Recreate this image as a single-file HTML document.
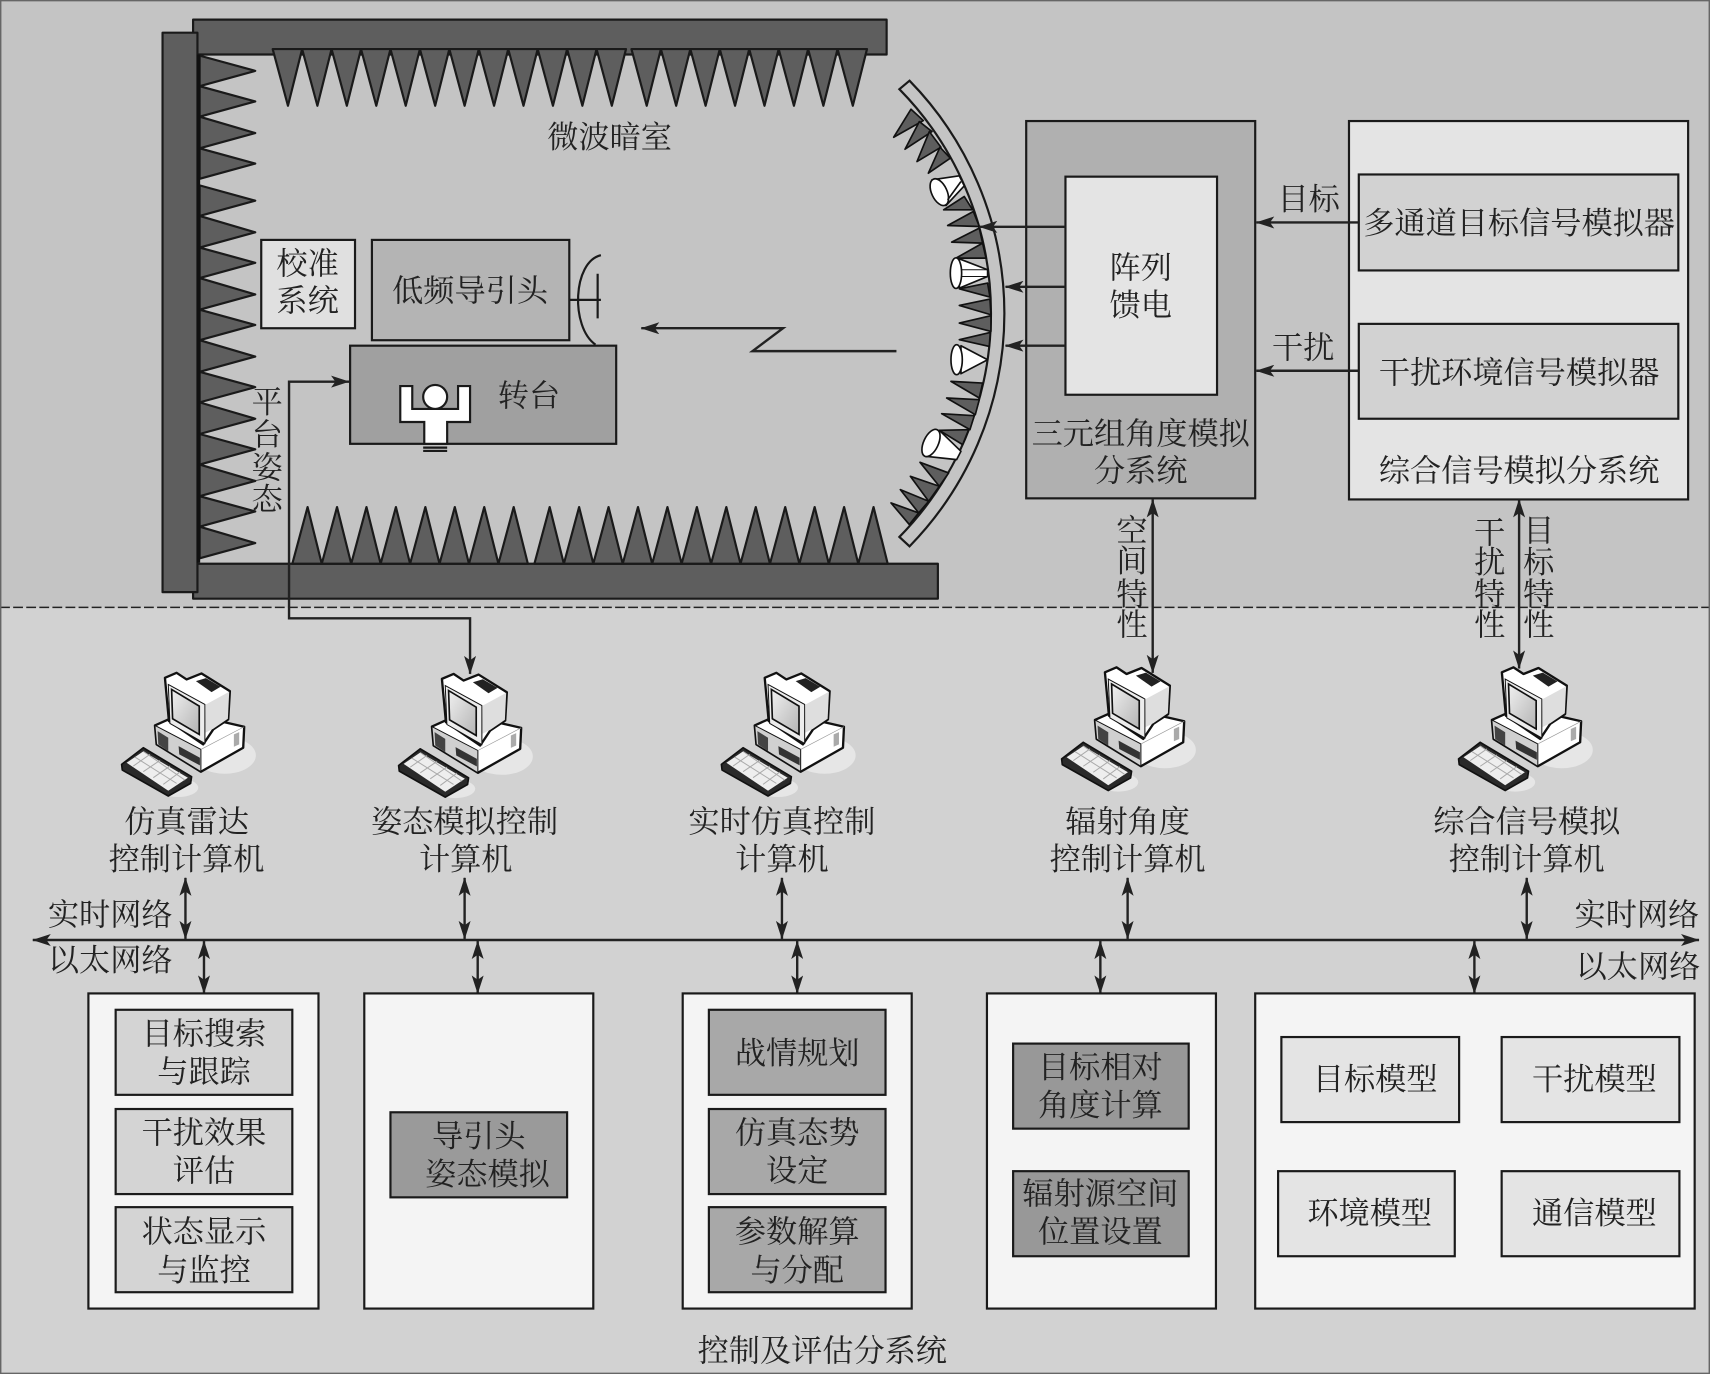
<!DOCTYPE html>
<html><head><meta charset="utf-8">
<style>
html,body{margin:0;padding:0;background:#c4c4c4}
svg{display:block}
text{font-family:"Liberation Serif","Noto Serif CJK SC",serif;font-size:28.6px;fill:#222;text-anchor:middle;dominant-baseline:central;transform:translate(0,1px)}
.s{stroke:#1a1a1a;stroke-width:2}
.t{fill:#5e5e5e;stroke:#1a1a1a;stroke-width:2;stroke-linejoin:round}
.l{fill:none;stroke:#222;stroke-width:2.2}
</style></head><body>
<svg xmlns="http://www.w3.org/2000/svg" width="1710" height="1374" viewBox="0 0 1568 1260">
<defs>
<marker id="a" viewBox="0 0 17 11" refX="16.5" refY="5.5" markerWidth="17" markerHeight="11" markerUnits="userSpaceOnUse" orient="auto-start-reverse"><path d="M17,5.500 L0,0 L4,5.500 L0,11 Z" fill="#222"/></marker>
<linearGradient id="sc" x1="0" y1="0" x2="1" y2="1"><stop offset="0" stop-color="#f0f0f0"/><stop offset="1" stop-color="#b4b4b4"/></linearGradient>
<g id="pc">
<g transform="scale(.9163) translate(100,650) scale(.33333)">
<ellipse cx="375" cy="318" rx="93" ry="55" fill="#e6e6e6"/>
<ellipse cx="235" cy="415" rx="60" ry="28" fill="#e6e6e6"/>
<path d="M165,228 L250,190 L433,232 L430,295 L303,367 L170,285 Z" fill="#fff" stroke="#111" stroke-width="7" stroke-linejoin="round"/>
<path d="M165,228 L303,300 L303,367 L170,285 Z" fill="#d0d0d0" stroke="#111" stroke-width="3"/>
<path d="M303,300 L433,232" stroke="#999" stroke-width="2"/>
<path d="M173,245 L205,265 L205,305 L175,285 Z" fill="#444"/>
<path d="M236,290 L300,325 L300,348 L238,315 Z" fill="#333"/>
<path d="M402,255 L418,248 L418,285 L402,292 Z" fill="#aaa"/>
<path d="M195,85 L230,70 L260,90 L305,72 L390,125 L385,210 L340,240 L310,285 L207,215 Z" fill="#fff" stroke="#111" stroke-width="7" stroke-linejoin="round"/>
<path d="M318,165 L388,127 L384,208 L340,238 L316,250 Z" fill="#dedede"/>
<path d="M205,105 L315,165 L315,282 L210,222 Z" fill="#ececec" stroke="#111" stroke-width="3"/>
<path d="M215,120 L298,170 L298,255 L218,208 Z" fill="url(#sc)" stroke="#111" stroke-width="5"/>
<path d="M288,95 L318,86 L362,112 L335,128 Z" fill="#222"/>
<path d="M65,345 L130,295 L275,382 L272,402 L205,440 L67,362 Z" fill="#2a2a2a" stroke="#111" stroke-width="5" stroke-linejoin="round"/>
<path d="M80,340 L130,306 L264,385 L205,424 Z" fill="#eee"/>
<path d="M105,323 L230,402 M130,306 L255,392 M100,350 L150,315 M130,367 L180,333 M160,385 L210,350 M190,405 L240,368" stroke="#aaa" stroke-width="3"/>
</g>
</g>
</defs>

<rect x="0" y="0" width="1568" height="557" fill="#c4c4c4"/>
<rect x="0" y="557" width="1568" height="703" fill="#d2d2d2"/>
<line x1="0" y1="557" x2="1568" y2="557" stroke="#222" stroke-width="1.3" stroke-dasharray="9 3"/>
<rect x=".5" y=".5" width="1567" height="1259" fill="none" stroke="#666" stroke-width="1.5"/>

<!-- chamber -->
<rect x="177" y="18" width="636" height="32" class="t"/>
<rect x="177" y="517" width="683" height="32" class="t"/>
<path class="t" d="M250,45 L264,97 L277,45 L291,97 L304,45 L318,97 L331,45 L345,97 L358,45 L372,97 L385,45 L399,97 L412,45 L426,97 L439,45 L453,97 L466,45 L480,97 L493,45 L507,97 L520,45 L534,97 L547,45 L561,97 L574,45 Z"/>
<path class="t" d="M579,45 L593,97 L606,45 L620,97 L633,45 L647,97 L660,45 L674,97 L687,45 L701,97 L714,45 L728,97 L741,45 L755,97 L768,45 L782,97 L795,45 Z"/>
<path class="t" d="M268,517 L282,465 L295,517 L309,465 L322,517 L336,465 L349,517 L363,465 L376,517 L390,465 L403,517 L417,465 L430,517 L444,465 L457,517 L471,465 L484,517 Z"/>
<path class="t" d="M490,517 L504,465 L517,517 L531,465 L544,517 L558,465 L571,517 L585,465 L598,517 L612,465 L625,517 L639,465 L652,517 L666,465 L679,517 L693,465 L706,517 L720,465 L733,517 L747,465 L760,517 L774,465 L787,517 L801,465 L814,517 Z"/>
<path class="t" d="M183,51 L234,65 L183,79 L234,93 L183,107 L234,122 L183,136 L234,150 L183,164 Z"/>
<path class="t" d="M183,170 L234,184 L183,198 L234,213 L183,227 L234,241 L183,255 L234,270 L183,284 L234,298 L183,312 L234,327 L183,341 L234,355 L183,369 L234,384 L183,398 L234,412 L183,426 L234,441 L183,455 L234,469 L183,483 L234,498 L183,512 Z"/>
<rect x="149" y="30" width="32" height="513" class="t"/>
<line x1="182" y1="50" x2="182" y2="516" stroke="#111" stroke-width="3"/>

<rect x="239.500" y="220" width="86" height="81" fill="#e0e0e0" class="s"/>
<text x="282" y="241">校准</text><text x="282" y="275">系统</text>
<path class="s" fill="none" d="M551,234 C525,240 523,300 546,316"/>
<path class="s" fill="none" d="M522,275 L551,275 M548,251 L548,292"/>
<rect x="341" y="220" width="181" height="92" fill="#b4b4b4" class="s"/>
<text x="431" y="266">低频导引头</text>
<rect x="321" y="317" width="244" height="90" fill="#a0a0a0" class="s"/>
<text x="485" y="362">转台</text>
<path d="M367,354 H378 V375 H420 V354 H431 V387 H410 V407 H389 V387 H367 Z" fill="#fff" class="s"/>
<circle cx="399" cy="364" r="11" fill="#fff" class="s"/>
<path d="M388,410.500 H410 M388,413.500 H410" class="s" stroke-width="1.500" fill="none"/>
<path class="l" d="M431,618 V567 H265 V350 H320" marker-start="url(#a)" marker-end="url(#a)"/>
<text x="245" y="368">平</text><text x="245" y="398">台</text><text x="245" y="428">姿</text><text x="245" y="457">态</text>
<text x="559" y="125">微波暗室</text>
<path class="l" d="M822,322 H690 L718,301 H588" marker-end="url(#a)"/>

<!-- curved wall -->
<path d="M834,74 A305.500,305.500 0 0 1 834,501 L824.700,492.400 A292.900,292.900 0 0 0 824.700,81.800 Z" fill="#c4c4c4" class="s"/>
<g transform="scale(.9163) translate(850,60) scale(.33333)" stroke-width="6">
<g fill="#5e5e5e" stroke="#111" stroke-width="5" stroke-linejoin="round">
<path d="M133,232 L185,148 L222,182 Z"/><path d="M167,268 L210,185 L248,215 Z"/><path d="M203,305 L240,215 L275,262 Z"/><path d="M237,340 L272,262 L303,295 Z"/>
<path d="M283,450 L345,410 L370,450 Z"/><path d="M295,497 L372,455 L390,500 Z"/><path d="M307,547 L390,505 L400,550 Z"/><path d="M320,595 L400,550 L410,595 Z"/>
<path d="M330,687 L415,670 L422,712 Z"/><path d="M330,737 L422,718 L425,765 Z"/><path d="M330,790 L425,768 L425,815 Z"/><path d="M330,840 L423,818 L420,860 Z"/>
<path d="M305,965 L400,970 L390,1015 Z"/><path d="M292,1015 L390,1020 L378,1065 Z"/><path d="M277,1062 L375,1068 L362,1110 Z"/><path d="M270,1112 L358,1110 L340,1155 Z"/>
<path d="M212,1208 L298,1240 L270,1280 Z"/><path d="M183,1250 L270,1280 L238,1325 Z"/><path d="M153,1290 L238,1325 L208,1360 Z"/><path d="M125,1330 L208,1360 L180,1395 Z"/>
</g>
<g fill="#fff" stroke="#111" stroke-width="5" stroke-linejoin="round">
<path d="M248,360 L330,348 L345,378 L290,437 Z"/><ellipse cx="270" cy="397" rx="23" ry="43" transform="rotate(-25 270 397)"/><path d="M295,420 L335,365" fill="none"/>
<path d="M330,597 L415,630 L415,650 L330,685 Z"/><ellipse cx="320" cy="640" rx="17" ry="46"/><path d="M335,630 L415,630 M335,650 L415,650" fill="none" stroke-width="3"/>
<path d="M335,858 L415,900 L335,942 Z"/><ellipse cx="322" cy="900" rx="17" ry="45"/>
<path d="M270,1112 L335,1175 L322,1200 L230,1190 Z"/><ellipse cx="245" cy="1150" rx="22" ry="44" transform="rotate(25 245 1150)"/>
</g>
</g>

<!-- angle sim -->
<rect x="941" y="111" width="210" height="346" fill="#b0b0b0" class="s"/>
<rect x="977" y="162" width="139" height="200" fill="#e4e4e4" class="s"/>
<text x="1046" y="245">阵列</text><text x="1046" y="279">馈电</text>
<text x="1046" y="397">三元组角度模拟</text><text x="1046" y="431">分系统</text>
<path class="l" d="M977,208 H898" marker-end="url(#a)"/>
<path class="l" d="M977,263 H922" marker-end="url(#a)"/>
<path class="l" d="M977,317 H922" marker-end="url(#a)"/>

<!-- signal sim -->
<rect x="1237" y="111" width="311" height="347" fill="#e4e4e4" class="s"/>
<rect x="1246" y="160" width="293" height="88" fill="#d2d2d2" class="s"/>
<rect x="1246" y="297" width="293" height="87" fill="#d2d2d2" class="s"/>
<text x="1393" y="204">多通道目标信号模拟器</text>
<text x="1393" y="341">干扰环境信号模拟器</text>
<text x="1393" y="431">综合信号模拟分系统</text>
<path class="l" d="M1246,204 H1152" marker-end="url(#a)"/>
<path class="l" d="M1246,340 H1152" marker-end="url(#a)"/>
<text x="1200" y="182">目标</text><text x="1195" y="318">干扰</text>

<path class="l" d="M1057,458 V617" marker-start="url(#a)" marker-end="url(#a)"/>
<path class="l" d="M1393,458 V613" marker-start="url(#a)" marker-end="url(#a)"/>
<text x="1038" y="486">空</text><text x="1038" y="514">间</text><text x="1038" y="544">特</text><text x="1038" y="572">性</text>
<text x="1366" y="488">干</text><text x="1366" y="515">扰</text><text x="1366" y="544">特</text><text x="1366" y="572">性</text>
<text x="1411" y="486">目</text><text x="1411" y="515">标</text><text x="1411" y="544">特</text><text x="1411" y="572">性</text>

<!-- computers -->
<use href="#pc"/>
<use href="#pc" transform="translate(254,1)"/>
<use href="#pc" transform="translate(550,0)"/>
<use href="#pc" transform="translate(862,-5)"/>
<use href="#pc" transform="translate(1226,-5)"/>
<text x="171" y="753">仿真雷达</text><text x="171" y="787">控制计算机</text>
<text x="426" y="753">姿态模拟控制</text><text x="427" y="787">计算机</text>
<text x="717" y="753">实时仿真控制</text><text x="717" y="787">计算机</text>
<text x="1034" y="753">辐射角度</text><text x="1034" y="787">控制计算机</text>
<text x="1400" y="753">综合信号模拟</text><text x="1400" y="787">控制计算机</text>

<!-- network -->
<path class="l" d="M30,862 H1558" marker-start="url(#a)" marker-end="url(#a)"/>
<path class="l" d="M170,805 V861" marker-start="url(#a)" marker-end="url(#a)"/>
<path class="l" d="M426,805 V861" marker-start="url(#a)" marker-end="url(#a)"/>
<path class="l" d="M717,805 V861" marker-start="url(#a)" marker-end="url(#a)"/>
<path class="l" d="M1034,805 V861" marker-start="url(#a)" marker-end="url(#a)"/>
<path class="l" d="M1400,805 V861" marker-start="url(#a)" marker-end="url(#a)"/>
<path class="l" d="M187,863 V911" marker-start="url(#a)" marker-end="url(#a)"/>
<path class="l" d="M438,863 V911" marker-start="url(#a)" marker-end="url(#a)"/>
<path class="l" d="M731,863 V911" marker-start="url(#a)" marker-end="url(#a)"/>
<path class="l" d="M1009,863 V911" marker-start="url(#a)" marker-end="url(#a)"/>
<path class="l" d="M1352,863 V911" marker-start="url(#a)" marker-end="url(#a)"/>
<text x="101" y="838">实时网络</text><text x="101" y="880">以太网络</text>
<text x="1501" y="838">实时网络</text><text x="1502" y="886">以太网络</text>

<!-- bottom boxes -->
<g fill="#f4f4f4" class="s">
<rect x="81" y="911" width="211" height="289"/>
<rect x="334" y="911" width="210" height="289"/>
<rect x="626" y="911" width="210" height="289"/>
<rect x="905" y="911" width="210" height="289"/>
<rect x="1151" y="911" width="403" height="289"/>
</g>
<g fill="#d4d4d4" class="s">
<rect x="106" y="926" width="162" height="78"/>
<rect x="106" y="1017" width="162" height="78"/>
<rect x="106" y="1107" width="162" height="78"/>
</g>
<text x="187" y="947">目标搜索</text><text x="187" y="982">与跟踪</text>
<text x="187" y="1038">干扰效果</text><text x="187" y="1073">评估</text>
<text x="187" y="1129">状态显示</text><text x="187" y="1164">与监控</text>
<rect x="358" y="1020" width="162" height="78" fill="#9a9a9a" class="s"/>
<text x="439" y="1041">导引头</text><text x="447" y="1076">姿态模拟</text>
<g fill="#a8a8a8" class="s">
<rect x="650" y="926" width="162" height="78"/>
<rect x="650" y="1017" width="162" height="78"/>
<rect x="650" y="1107" width="162" height="78"/>
</g>
<text x="731" y="965">战情规划</text>
<text x="731" y="1038">仿真态势</text><text x="731" y="1073">设定</text>
<text x="731" y="1129">参数解算</text><text x="731" y="1164">与分配</text>
<g fill="#989898" class="s">
<rect x="929" y="957" width="161" height="78"/>
<rect x="929" y="1074" width="161" height="78"/>
</g>
<text x="1009" y="978">目标相对</text><text x="1009" y="1013">角度计算</text>
<text x="1009" y="1094">辐射源空间</text><text x="1009" y="1129">位置设置</text>
<g fill="#e4e4e4" class="s">
<rect x="1175" y="951" width="163" height="78"/>
<rect x="1377" y="951" width="163" height="78"/>
<rect x="1172" y="1074" width="162" height="78"/>
<rect x="1377" y="1074" width="163" height="78"/>
</g>
<text x="1261" y="989">目标模型</text><text x="1462" y="989">干扰模型</text>
<text x="1256" y="1112">环境模型</text><text x="1462" y="1112">通信模型</text>
<text x="754" y="1238">控制及评估分系统</text>
</svg>
</body></html>
